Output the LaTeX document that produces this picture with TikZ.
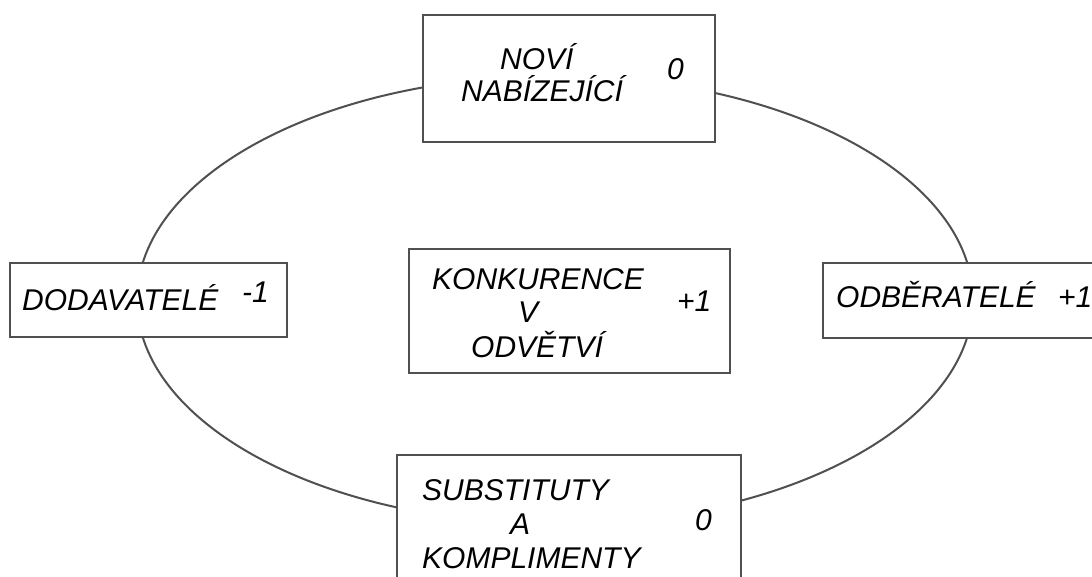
\documentclass[tikz,border=0pt]{standalone}
\usepackage{fontspec}
\setmainfont{Liberation Sans}
\definecolor{linegray}{HTML}{505050}
\begin{document}
\begin{tikzpicture}[x=1pt,y=-1pt,
  frame/.style={draw=linegray, line width=2.4pt, fill=white, rectangle, inner sep=0pt},
  ring/.style={draw=linegray, line width=2pt},
  lbl/.style={inner sep=0pt, font=\fontsize{30}{34}\selectfont\itshape, text=black},
]
\clip (0,0) rectangle (1092,577);
\fill[white] (0,0) rectangle (1092,577);

% the ring linking the five forces
\draw[ring] (555,300) ellipse [x radius=418, y radius=224];

% boxes
\node[frame, minimum width=292pt, minimum height=127pt] (entrants) at (569,78.5) {};
\node[frame, minimum width=277pt, minimum height=74pt] (suppliers) at (148.5,300) {};
\node[frame, minimum width=307pt, minimum height=75pt] (buyers) at (976.5,300.5) {};
\node[frame, minimum width=321pt, minimum height=124pt] (rivalry) at (569.5,311) {};
\node[frame, minimum width=344pt, minimum height=165pt] (substitutes) at (569,537.5) {};

% labels: new entrants
\node[lbl, anchor=base west] (t1a) at (500,70) {NOVÍ};
\node[lbl, anchor=base west] (t1b) at (461,102) {NABÍZEJÍCÍ};
\node[lbl, anchor=base west] (t1s) at (667,80) {0};

% suppliers
\node[lbl, anchor=base west] (t2a) at (22,311) {DODAVATELÉ};
\node[lbl, anchor=base west] (t2s) at (242,302) {-1};

% buyers
\node[lbl, anchor=base west] (t3a) at (836,308) {ODBĚRATELÉ};
\node[lbl, anchor=base west] (t3s) at (1058,308) {+1};

% industry rivalry
\node[lbl, anchor=base west] (t4a) at (432,290) {KONKURENCE};
\node[lbl, anchor=base] (t4b) at (528,323) {V};
\node[lbl, anchor=base west] (t4c) at (471,357) {ODVĚTVÍ};
\node[lbl, anchor=base west] (t4s) at (677,312) {+1};

% substitutes and complements
\node[lbl, anchor=base west] (t5a) at (422,500) {SUBSTITUTY};
\node[lbl, anchor=base] (t5b) at (520,534) {A};
\node[lbl, anchor=base west] (t5c) at (422,568) {KOMPLIMENTY};
\node[lbl, anchor=base west] (t5s) at (695,530) {0};
\end{tikzpicture}
\end{document}
